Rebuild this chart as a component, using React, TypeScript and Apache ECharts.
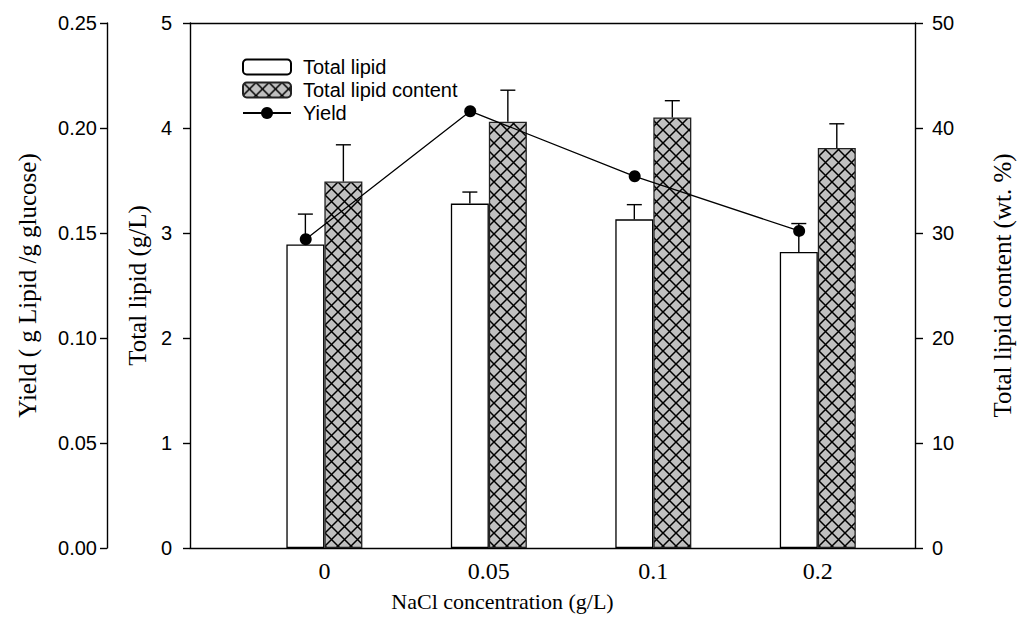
import React, { useEffect, useRef } from "react";
import * as echarts from "echarts";

const categories = ["0", "0.05", "0.1", "0.2"];
const totalLipid = [2.89, 3.28, 3.13, 2.82];
const totalLipidErr = [0.29, 0.11, 0.14, 0.27];
const lipidContent = [34.9, 40.6, 41.0, 38.1];
const lipidContentErr = [3.5, 3.0, 1.6, 2.3];
const yieldValues = [0.147, 0.208, 0.177, 0.151];

const lipidTicks = { min: 0, max: 5, interval: 1 };
const contentTicks = { min: 0, max: 50, interval: 10 };
const yieldTicks = { min: 0, max: 0.25, interval: 0.05 };

const X_MIN = -0.817;
const X_MAX = 3.591;
const BAR_W = 38;
const GRID_LEFT = 190;
const GRID_RIGHT = 94;

function makeHatch(): HTMLCanvasElement {
  const s = 13;
  const c = document.createElement("canvas");
  c.width = s;
  c.height = s;
  const ctx = c.getContext("2d")!;
  ctx.fillStyle = "#c0c0c0";
  ctx.fillRect(0, 0, s, s);
  ctx.strokeStyle = "#000";
  ctx.lineWidth = 1.5;
  ctx.beginPath();
  ctx.moveTo(-1, -1);
  ctx.lineTo(s + 1, s + 1);
  ctx.moveTo(s + 1, -1);
  ctx.lineTo(-1, s + 1);
  ctx.stroke();
  return c;
}

const serif = "'Liberation Serif', 'Times New Roman', serif";
const sans = "'Liberation Sans', Arial, sans-serif";

export default function App() {
  const ref = useRef<HTMLDivElement>(null);
  useEffect(() => {
    if (!ref.current) return;
    document.body.style.overflow = "hidden";
    const chart = echarts.init(ref.current, undefined, { renderer: "svg" });
    const hatch = makeHatch();
    const plotW = 1023 - GRID_LEFT - GRID_RIGHT;
    const shift = BAR_W / 2 / (plotW / (X_MAX - X_MIN));

    const errRender = (xoff: number) => (params: any, api: any) => {
      const x = api.value(0);
      const v = api.value(1);
      const e = api.value(2);
      const base = api.coord([x, v]);
      const top = api.coord([x, v + e]);
      const cx = base[0] + xoff;
      const st = { stroke: "#000", lineWidth: 1.4 };
      return {
        type: "group",
        children: [
          { type: "line", shape: { x1: cx, y1: base[1], x2: cx, y2: top[1] }, style: st },
          { type: "line", shape: { x1: cx - 7.5, y1: top[1], x2: cx + 7.5, y2: top[1] }, style: st },
        ],
      };
    };

    const axisLine = { show: true, onZero: false, lineStyle: { color: "#000", width: 1.4 } };
    const tickStyle = { color: "#000", width: 1.4 };
    const tickFont = { fontFamily: sans, fontSize: 20, color: "#000" };
    const titleFont = { fontFamily: serif, fontSize: 25, color: "#000" };

    chart.setOption({
      animation: false,
      grid: { left: GRID_LEFT, right: GRID_RIGHT, top: 23, bottom: 65 },
      legend: {
        orient: "vertical",
        left: 237,
        top: 52,
        itemWidth: 48,
        itemHeight: 15,
        itemGap: 3,
        textStyle: { fontFamily: sans, fontSize: 20, color: "#000", lineHeight: 20, padding: [0, 0, 0, 7] },
        data: ["Total lipid", "Total lipid content", "Yield"],
      },
      xAxis: [
        {
          type: "value",
          min: X_MIN,
          max: X_MAX,
          position: "bottom",
          axisLine,
          axisTick: { show: false },
          splitLine: { show: false },
          axisLabel: {
            fontFamily: serif,
            fontSize: 24,
            color: "#000",
            margin: 11,
            showMinLabel: false,
            showMaxLabel: false,
            formatter: (v: number) =>
              Number.isInteger(v) && v >= 0 && v < categories.length ? categories[v] : "",
          },
          name: "NaCl concentration (g/L)",
          nameLocation: "middle",
          nameGap: 42,
          nameTextStyle: { fontFamily: serif, fontSize: 22, color: "#000", padding: [0, 100, 0, 0] },
        },
        {
          type: "value",
          min: X_MIN + shift,
          max: X_MAX + shift,
          show: false,
        },
        {
          type: "value",
          min: X_MIN,
          max: X_MAX,
          position: "top",
          axisLine,
          axisTick: { show: false },
          axisLabel: { show: false },
          splitLine: { show: false },
        },
      ],
      yAxis: [
        {
          type: "value",
          ...lipidTicks,
          position: "left",
          axisLine,
          axisTick: { show: true, length: 7, lineStyle: tickStyle },
          splitLine: { show: false },
          axisLabel: { ...tickFont, margin: 18 },
          name: "Total lipid (g/L)",
          nameLocation: "middle",
          nameGap: 40,
          nameTextStyle: titleFont,
        },
        {
          type: "value",
          ...contentTicks,
          position: "right",
          axisLine,
          axisTick: { show: true, length: 8, lineStyle: tickStyle },
          splitLine: { show: false },
          axisLabel: { ...tickFont, margin: 17 },
          name: "Total lipid content (wt. %)",
          nameLocation: "middle",
          nameGap: 75,
          nameTextStyle: titleFont,
        },
        {
          type: "value",
          ...yieldTicks,
          position: "left",
          offset: GRID_LEFT - 107,
          axisLine,
          axisTick: { show: true, length: 7, lineStyle: tickStyle },
          splitLine: { show: false },
          axisLabel: { ...tickFont, margin: 10, formatter: (v: number) => v.toFixed(2) },
          name: "Yield ( g Lipid /g glucose)",
          nameLocation: "middle",
          nameGap: 67,
          nameTextStyle: titleFont,
        },
      ],
      series: [
        {
          name: "Total lipid",
          type: "bar",
          xAxisIndex: 0,
          yAxisIndex: 0,
          barWidth: BAR_W,
          barGap: "0%",
          itemStyle: { color: "#fff", borderColor: "#000", borderWidth: 1.3 },
          data: totalLipid.map((v, i) => [i, v]),
        },
        {
          name: "Total lipid content",
          type: "bar",
          xAxisIndex: 0,
          yAxisIndex: 1,
          barWidth: BAR_W,
          barGap: "0%",
          itemStyle: {
            color: { image: hatch, repeat: "repeat", imageWidth: 13, imageHeight: 13 } as any,
            borderColor: "#222",
            borderWidth: 1.3,
          },
          data: lipidContent.map((v, i) => [i, v]),
        },
        {
          name: "Total lipid err",
          type: "custom",
          xAxisIndex: 0,
          yAxisIndex: 0,
          z: 3,
          renderItem: errRender(-BAR_W / 2),
          data: totalLipid.map((v, i) => [i, v, totalLipidErr[i]]),
        },
        {
          name: "Content err",
          type: "custom",
          xAxisIndex: 0,
          yAxisIndex: 1,
          z: 3,
          renderItem: errRender(BAR_W / 2),
          data: lipidContent.map((v, i) => [i, v, lipidContentErr[i]]),
        },
        {
          name: "Yield",
          type: "line",
          xAxisIndex: 1,
          yAxisIndex: 2,
          z: 4,
          symbol: "circle",
          symbolSize: 12,
          lineStyle: { color: "#000", width: 1.3 },
          itemStyle: { color: "#000" },
          data: yieldValues.map((v, i) => [i, v]),
        },
      ],
    });
    return () => chart.dispose();
  }, []);
  return (
    <div
      ref={ref}
      style={{ width: 1023, height: 617, position: "absolute", left: 0, top: 0, overflow: "hidden" }}
    />
  );
}
